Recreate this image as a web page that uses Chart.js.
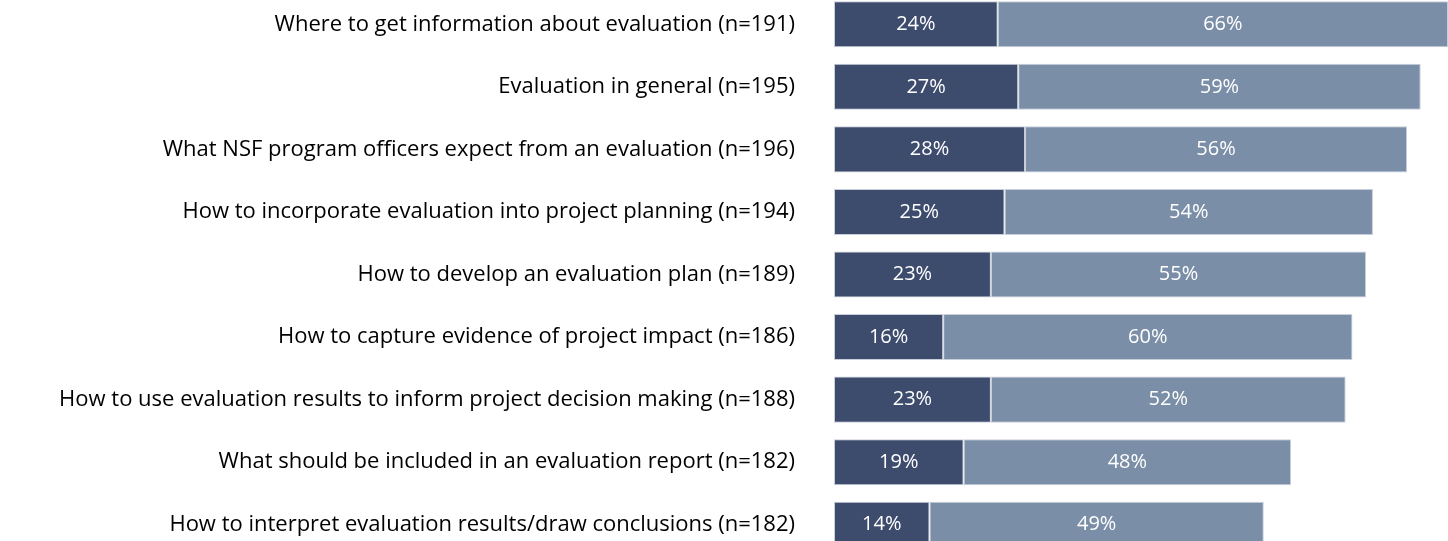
<!DOCTYPE html>
<html>
<head>
<meta charset="utf-8">
<script src="https://cdn.jsdelivr.net/npm/chart.js@4/dist/chart.umd.min.js"></script>
<style>
  html, body { margin: 0; padding: 0; background: #fff; overflow: hidden; }
  #chart { position: absolute; left: 0; top: -7px; }
</style>
</head>
<body>
<canvas id="chart" width="1448" height="563"></canvas>
<script>
var categories = [
  'Where to get information about evaluation (n=191)',
  'Evaluation in general (n=195)',
  'What NSF program officers expect from an evaluation (n=196)',
  'How to incorporate evaluation into project planning (n=194)',
  'How to develop an evaluation plan (n=189)',
  'How to capture evidence of project impact (n=186)',
  'How to use evaluation results to inform project decision making (n=188)',
  'What should be included in an evaluation report (n=182)',
  'How to interpret evaluation results/draw conclusions (n=182)'
];
var darkValues = [24, 27, 28, 25, 23, 16, 23, 19, 14];
var lightValues = [66, 59, 56, 54, 55, 60, 52, 48, 49];

var FONT = '"Open Sans", sans-serif';

// draws the percentage inside each bar segment
var barLabels = {
  id: 'barLabels',
  afterDatasetsDraw: function (chart) {
    var ctx = chart.ctx;
    ctx.save();
    ctx.fillStyle = '#ffffff';
    ctx.font = '20px ' + FONT;
    ctx.textAlign = 'center';
    ctx.textBaseline = 'middle';
    chart.data.datasets.forEach(function (ds, i) {
      chart.getDatasetMeta(i).data.forEach(function (bar, j) {
        var cx = (bar.x + bar.base) / 2;
        ctx.fillText(ds.data[j] + '%', cx, bar.y);
      });
    });
    ctx.restore();
  }
};

var ctx = document.getElementById('chart').getContext('2d');
var myChart = new Chart(ctx, {
  type: 'bar',
  data: {
    labels: categories,
    datasets: [{
      label: 'dark',
      data: darkValues,
      backgroundColor: '#3d4b6d',
      borderColor: '#c9cfda',
      borderWidth: 1,
      borderSkipped: false,
      barPercentage: 0.736,
      categoryPercentage: 1
    }, {
      label: 'light',
      data: lightValues,
      backgroundColor: '#7a8ea7',
      borderColor: '#c9cfda',
      borderWidth: 1,
      borderSkipped: false,
      barPercentage: 0.736,
      categoryPercentage: 1
    }]
  },
  options: {
    indexAxis: 'y',
    responsive: false,
    animation: false,
    layout: { padding: 0 },
    plugins: {
      legend: { display: false },
      tooltip: { enabled: false }
    },
    scales: {
      x: {
        stacked: true,
        min: 0,
        max: 90,
        display: false
      },
      y: {
        stacked: true,
        // invisible tick marks push the labels away from the bars
        grid: { display: true, drawOnChartArea: false, drawTicks: true, tickLength: 39, color: 'rgba(0,0,0,0)' },
        border: { display: false },
        ticks: {
          color: '#000000',
          padding: 0,
          font: { family: FONT, size: 22 }
        },
        afterFit: function (scale) {
          scale.width = 834;
          scale.paddingTop = 0;
          scale.paddingBottom = 0;
        }
      }
    }
  },
  plugins: [barLabels]
});
</script>
</body>
</html>
